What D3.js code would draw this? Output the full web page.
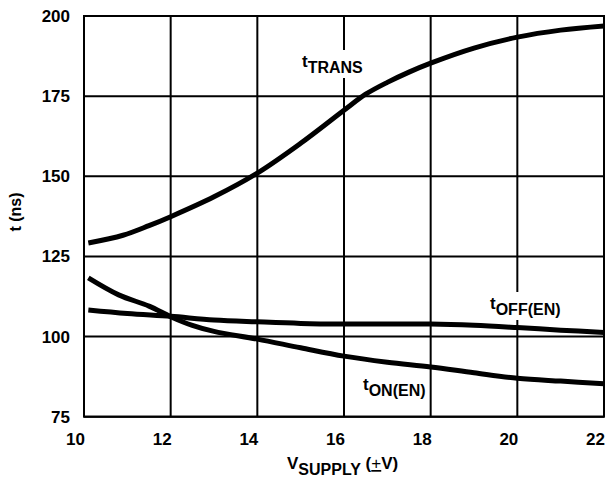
<!DOCTYPE html>
<meta charset="utf-8">
<script src="https://cdn.jsdelivr.net/npm/d3@7"></script>
<style>
body { margin: 0; background: #fff; }
text { font-family: "Liberation Sans", Arial, sans-serif; font-weight: bold; fill: #000; }
.grid { stroke: #000; stroke-width: 2px; }
.curve { fill: none; stroke: #000; stroke-width: 5px; stroke-linejoin: round; }
</style>
<body>
<script>

// supply voltage (±V) and switching times (ns)
var vTrans = [10.1, 10.9, 11.5, 12, 13, 14, 15, 16, 16.5, 17, 17.5, 18, 19, 20, 21, 22];
var tTrans = [129.2, 131.6, 134.6, 137.4, 143.6, 151.0, 160.3, 170.6, 175.6, 179.3, 182.5, 185.3, 190.0, 193.4, 195.6, 196.9];

var vOff = [10.1, 11, 12, 13, 14, 15, 16, 17, 18, 19, 20, 21, 22];
var tOff = [108.3, 107.2, 106.3, 105.2, 104.6, 104.1, 103.9, 103.9, 103.9, 103.5, 102.8, 102.0, 101.3];

var vOn = [10.1, 10.8, 11.5, 12, 12.5, 13, 14, 15, 16, 17, 18, 19, 20, 21, 22];
var tOn = [118.3, 113.0, 109.5, 106.2, 103.5, 101.6, 99.2, 96.5, 93.9, 92.0, 90.5, 88.7, 87.0, 86.1, 85.3];

var xTicks = [10, 12, 14, 16, 18, 20, 22];
var yTicks = [75, 100, 125, 150, 175, 200];

var width = 606, height = 482;

var x = d3.scaleLinear().domain([10, 22]).range([84, 604]);
var y = d3.scaleLinear().domain([75, 200]).range([416.7, 16]);

var svg = d3.select("body").append("svg")
    .attr("width", width)
    .attr("height", height);

// grid
svg.append("g").selectAll("line.v")
    .data(xTicks)
    .enter().append("line")
    .attr("class", "grid")
    .attr("x1", function(d) { return x(d); })
    .attr("x2", function(d) { return x(d); })
    .attr("y1", y(75))
    .attr("y2", y(200));

svg.append("g").selectAll("line.h")
    .data(yTicks)
    .enter().append("line")
    .attr("class", "grid")
    .attr("x1", x(10))
    .attr("x2", x(22))
    .attr("y1", function(d) { return y(d); })
    .attr("y2", function(d) { return y(d); });

// tick labels
svg.append("g").selectAll("text")
    .data(yTicks)
    .enter().append("text")
    .attr("x", 70)
    .attr("y", function(d) { return y(d) + 6; })
    .attr("text-anchor", "end")
    .style("font-size", "17px")
    .text(function(d) { return d; });

svg.append("g").selectAll("text")
    .data(xTicks)
    .enter().append("text")
    .attr("x", function(d) { return x(d) + 1; })
    .attr("y", 445)
    .attr("text-anchor", "end")
    .style("font-size", "17px")
    .text(function(d) { return d; });

// curves
var line = d3.line()
    .x(function(d) { return x(d[0]); })
    .y(function(d) { return y(d[1]); })
    .curve(d3.curveCatmullRom.alpha(0.5));

[[vTrans, tTrans], [vOff, tOff], [vOn, tOn]].forEach(function(s) {
  svg.append("path")
      .attr("class", "curve")
      .attr("d", line(d3.zip(s[0], s[1])));
});

// curve labels, on white patches that cut the grid
function label(px, py, sub) {
  var g = svg.append("g");
  var t = g.append("text")
      .attr("x", px)
      .attr("y", py)
      .style("font-size", "17px");
  t.append("tspan").text("t");
  t.append("tspan")
      .attr("dy", 6)
      .style("font-size", "16px")
      .text(sub);
  var b = t.node().getBBox();
  g.insert("rect", "text")
      .attr("x", b.x - 3)
      .attr("y", b.y - 2)
      .attr("width", b.width + 6)
      .attr("height", b.height + 4)
      .attr("fill", "#fff");
}
label(302, 67, "TRANS");
label(490, 309, "OFF(EN)");
label(363, 390, "ON(EN)");

// frame on top
svg.append("rect")
    .attr("x", x(10))
    .attr("y", y(200))
    .attr("width", x(22) - x(10))
    .attr("height", y(75) - y(200))
    .attr("fill", "none")
    .attr("stroke", "#000")
    .attr("stroke-width", 2);

// axis titles
svg.append("text")
    .attr("transform", "translate(21,212) rotate(-90)")
    .attr("text-anchor", "middle")
    .style("font-size", "16px")
    .text("t (ns)");

var xt = svg.append("text")
    .attr("x", 287)
    .attr("y", 469)
    .style("font-size", "17px");
xt.append("tspan").text("V");
xt.append("tspan").attr("dy", 6).style("font-size", "16px").text("SUPPLY");
xt.append("tspan").attr("dy", -6).text(" (");
xt.append("tspan").style("font-weight", "normal").style("text-decoration", "underline").text("+");
xt.append("tspan").text("V)");

</script>
</body>
